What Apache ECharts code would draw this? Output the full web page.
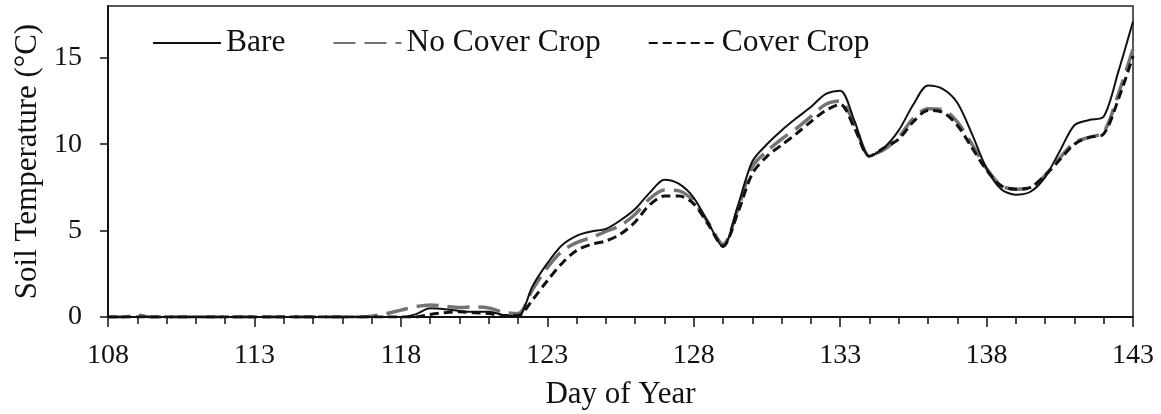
<!DOCTYPE html>
<html>
<head>
<meta charset="utf-8">
<script src="https://cdn.jsdelivr.net/npm/echarts@6/dist/echarts.min.js"></script>
<style>
  html, body { margin: 0; padding: 0; background: #fff; }
  #chart { width: 1161px; height: 414px; }
</style>
</head>
<body>
<div id="chart"></div>
<script>
// Day of year sample points (half-day steps where the curves move)
const days = [108, 108.5, 109, 109.5, 110, 112, 114, 116,
  116.5, 117, 117.5, 118, 118.5, 119, 119.5, 120, 120.5, 121, 121.5, 122,
  122.5, 123, 123.5, 124, 124.5, 125, 125.5, 126, 126.5, 127,
  127.5, 128, 128.5, 129, 129.5, 130,
  130.5, 131, 131.5, 132, 132.5, 133,
  133.5, 134, 134.5, 135, 135.5, 136,
  136.5, 137, 137.5, 138, 138.5, 139,
  139.5, 140, 140.5, 141, 141.5, 142,
  142.5, 143];

// Soil temperature (°C)
const bare = [0, 0, 0, 0, 0, 0, 0, 0,
  0, 0, 0, 0, 0.15, 0.5, 0.45, 0.35, 0.3, 0.3, 0.12, 0.05,
  1.8, 3.1, 4.15, 4.7, 4.95, 5.1, 5.6, 6.25, 7.2, 7.95,
  7.7, 6.9, 5.45, 4.05, 6.4, 9.0,
  10.0, 10.8, 11.5, 12.15, 12.9, 13.1,
  11.3, 9.3, 9.8, 10.8, 12.3, 13.4,
  13.2, 12.4, 10.6, 8.6, 7.4, 7.08,
  7.25, 8.1, 9.6, 11.1, 11.4, 11.6,
  14.2, 17.1];

const noCoverCrop = [0, 0, 0.1, 0, 0, 0, 0, 0,
  0, 0.05, 0.2, 0.4, 0.6, 0.7, 0.62, 0.55, 0.58, 0.52, 0.28, 0.2,
  1.6, 2.85, 3.8, 4.3, 4.6, 4.95, 5.3, 5.95, 6.85, 7.35,
  7.3, 6.7, 5.45, 4.2, 6.2, 8.7,
  9.6, 10.3, 10.9, 11.6, 12.3, 12.5,
  11.1, 9.35, 9.7, 10.4, 11.5, 12.05,
  12.0, 11.3, 10.0, 8.6, 7.6, 7.4,
  7.5, 8.2, 9.2, 10.1, 10.4, 10.7,
  12.9, 15.5];

const coverCrop = [0, 0, 0, 0, 0, 0, 0, 0,
  0, 0, 0, 0, 0, 0.15, 0.25, 0.3, 0.25, 0.2, 0.08, 0.08,
  1.0, 2.1, 3.1, 3.85, 4.2, 4.4, 4.8, 5.5, 6.5, 7.0,
  7.0, 6.55, 5.35, 4.1, 6.0, 8.3,
  9.3, 9.95, 10.6, 11.3, 11.95, 12.3,
  10.9, 9.3, 9.8, 10.3, 11.3, 11.95,
  11.85, 11.1, 9.8, 8.5, 7.6, 7.4,
  7.5, 8.2, 9.1, 10.0, 10.4, 10.6,
  12.6, 15.1];

// Axis ticks
const xLabelDays = [108, 113, 118, 123, 128, 133, 138, 143];
const xMinorDays = [108, 109, 110, 111, 112, 113, 114, 115, 116, 117, 118, 119, 120, 121, 122, 123, 124, 125,
  126, 127, 128, 129, 130, 131, 132, 133, 134, 135, 136, 137, 138, 139, 140, 141, 142, 143];
const yTicks = [0, 5, 10, 15];

const FONT = "'Liberation Serif', 'Times New Roman', serif";
const pairs = (ys) => days.map((d, i) => [d, ys[i]]);

const chart = echarts.init(document.getElementById('chart'), null, { renderer: 'canvas' });

chart.setOption({
  animation: false,
  backgroundColor: '#fff',
  textStyle: { fontFamily: FONT, color: '#111' },
  grid: {
    left: 108, right: 28, top: 6, bottom: 97,
    outerBoundsMode: 'none', containLabel: false,
    show: true, borderColor: '#222', borderWidth: 1.5, backgroundColor: 'transparent'
  },
  legend: {
    left: 147, top: 22,
    itemWidth: 68, itemHeight: 20, itemGap: 47,
    itemStyle: { opacity: 0 },
    textStyle: { fontFamily: FONT, fontSize: 31.5, color: '#111' },
    data: ['Bare', 'No Cover Crop', 'Cover Crop']
  },
  xAxis: [{
    type: 'value', min: 108, max: 143, z: 5,
    name: 'Day of Year', nameLocation: 'middle', nameGap: 62,
    nameTextStyle: { fontFamily: FONT, fontSize: 31, color: '#111' },
    splitLine: { show: false },
    axisLine: { onZero: false, lineStyle: { color: '#111', width: 2 } },
    axisTick: { show: true, customValues: xMinorDays, length: 7, lineStyle: { color: '#111', width: 1.5 } },
    axisLabel: { customValues: xLabelDays, margin: 25, fontFamily: FONT, fontSize: 28, color: '#111' }
  }, {
    // longer ticks at the labelled days
    type: 'value', min: 108, max: 143, position: 'bottom', z: 5,
    splitLine: { show: false },
    axisLine: { show: false },
    axisTick: { show: true, customValues: xLabelDays, length: 10, lineStyle: { color: '#111', width: 1.5 } },
    axisLabel: { show: false }
  }],
  yAxis: {
    type: 'value', min: 0, max: 18,
    name: 'Soil Temperature (°C)', nameLocation: 'middle', nameGap: 64,
    nameTextStyle: { fontFamily: FONT, fontSize: 31, color: '#111' },
    splitLine: { show: false },
    axisLine: { show: true, lineStyle: { color: '#111', width: 2 } },
    axisTick: { show: true, customValues: yTicks, length: 8, lineStyle: { color: '#111', width: 1.5 } },
    axisLabel: { customValues: yTicks, margin: 26, fontFamily: FONT, fontSize: 28, color: '#111' }
  },
  series: [{
    name: 'Bare', type: 'line', smooth: 0.3, symbol: 'none', z: 3,
    data: pairs(bare),
    itemStyle: { color: '#111' },
    lineStyle: { color: '#111', width: 2, type: 'solid' }
  }, {
    name: 'No Cover Crop', type: 'line', smooth: 0.3, symbol: 'none', z: 2,
    data: pairs(noCoverCrop),
    itemStyle: { color: '#737373' },
    lineStyle: { color: '#737373', width: 3.5, type: [22, 9] }
  }, {
    name: 'Cover Crop', type: 'line', smooth: 0.3, symbol: 'none', z: 4,
    data: pairs(coverCrop),
    itemStyle: { color: '#111' },
    lineStyle: { color: '#111', width: 3, type: [9, 5] }
  }]
});
</script>
</body>
</html>
